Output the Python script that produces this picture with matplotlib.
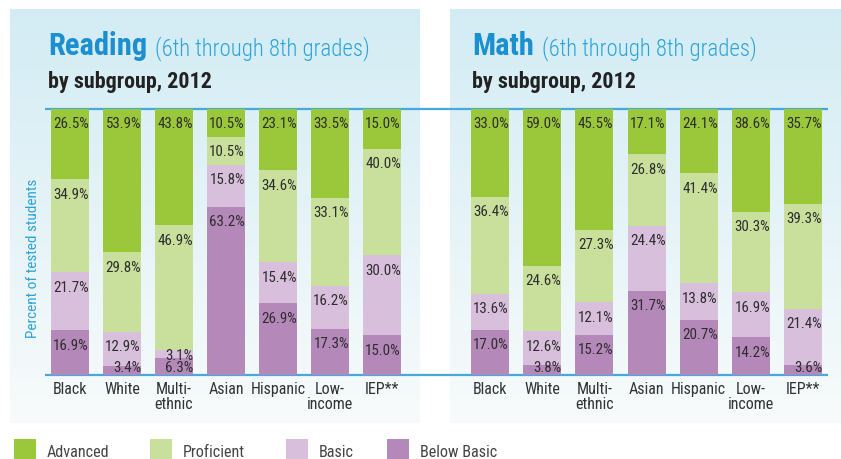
import matplotlib
matplotlib.use("Agg")
import matplotlib.pyplot as plt
import numpy as np
from matplotlib import font_manager
from matplotlib.patches import Rectangle

# ---------------- data ----------------
categories = ["Black", "White", "Multi-\nethnic", "Asian", "Hispanic", "Low-\nincome", "IEP**"]
levels = ["Below Basic", "Basic", "Proficient", "Advanced"]

reading_below_basic = [16.9, 3.4, 6.3, 63.2, 26.9, 17.3, 15.0]
reading_basic       = [21.7, 12.9, 3.1, 15.8, 15.4, 16.2, 30.0]
reading_proficient  = [34.9, 29.8, 46.9, 10.5, 34.6, 33.1, 40.0]
reading_advanced    = [26.5, 53.9, 43.8, 10.5, 23.1, 33.5, 15.0]

math_below_basic = [17.0, 3.8, 15.2, 31.7, 20.7, 14.2, 3.6]
math_basic       = [13.6, 12.6, 12.1, 24.4, 13.8, 16.9, 21.4]
math_proficient  = [36.4, 24.6, 27.3, 26.8, 41.4, 30.3, 39.3]
math_advanced    = [33.0, 59.0, 45.5, 17.1, 24.1, 38.6, 35.7]

level_colors = {"Advanced": "#9bc83b", "Proficient": "#c9e09c",
                "Basic": "#d8bfdc", "Below Basic": "#b588ba"}

# ---------------- fonts ----------------
avail = {f.name for f in font_manager.fontManager.ttflist}
font = "Roboto"
for cand in ["Roboto Condensed", "Liberation Sans Narrow", "Roboto"]:
    if cand in avail:
        font = cand
        break
plt.rcParams["font.family"] = [font, "DejaVu Sans"]

W, H = 841, 459
fig = plt.figure(figsize=(W / 100, H / 100), dpi=100)

# background axes in pixel coordinates
bg = fig.add_axes([0, 0, 1, 1], zorder=0)
bg.axis("off")

# gradient panels
grad = np.linspace(0, 1, 256).reshape(-1, 1)
top_c = np.array([0.827, 0.925, 0.957])
bot_c = np.array([0.972, 0.984, 0.984])
img = top_c[None, None, :] * (1 - grad[..., None]) + bot_c[None, None, :] * grad[..., None]
for (x0, x1) in [(10, 420), (450, 841)]:
    bg.imshow(img, extent=(x0, x1, 423, 9), aspect="auto", zorder=0, interpolation="bilinear")
bg.set_xlim(0, W)
bg.set_ylim(H, 0)

PLOT_TOP, PLOT_BOT = 109, 375
PX_PER_PCT = (PLOT_BOT - PLOT_TOP) / 100.0

line_c = "#45a9dd"
for yy in (PLOT_TOP, PLOT_BOT):
    bg.plot([45, 828], [yy, yy], color=line_c, lw=1.6, zorder=5, solid_capstyle="butt")

def make_chart(first_center, spacing, right_px, stacks, title, title_x):
    left_px = first_center - spacing / 2
    ax = fig.add_axes([left_px / W, 1 - PLOT_BOT / H,
                       (right_px - left_px) / W, (PLOT_BOT - PLOT_TOP) / H], zorder=2)
    ax.patch.set_alpha(0)
    x = np.arange(len(categories))
    width = 38 / spacing
    bottom = np.zeros(len(categories))
    label_base = [[] for _ in categories]
    for lvl, vals in stacks:
        vals = np.array(vals)
        ax.bar(x, vals, width, bottom=bottom, color=level_colors[lvl], edgecolor="none", zorder=2)
        tops = bottom + vals
        for i, (t, v) in enumerate(zip(tops, vals)):
            yb = t - 19.5 / PX_PER_PCT
            yb = max(yb, 2.5 / PX_PER_PCT)
            if label_base[i]:
                yb = max(yb, label_base[i][-1] + 12.5 / PX_PER_PCT)
            label_base[i].append(yb)
            ax.text(i + width / 2, yb, f"{v:.1f}%", ha="right", va="baseline",
                    fontsize=10.8, color="#2e2e2e", zorder=4, clip_on=False)
        bottom = tops
    ax.set_xlim(-0.5, (right_px - first_center) / spacing)
    ax.set_ylim(0, 100)
    ax.axis("off")
    for i, c in enumerate(categories):
        ax.text(i, -0.025, c, transform=ax.get_xaxis_transform(), ha="center", va="top",
                fontsize=11.5, color="#333333", linespacing=1.05)
    # titles
    t = bg.text(title_x, 55, title, fontsize=22, fontweight="bold", color="#1b8fd0",
                va="baseline", ha="left")
    fig.canvas.draw()
    bb = t.get_window_extent()
    bg.text(title_x + bb.width + 8, 55, "(6th through 8th grades)", fontsize=16.4,
            fontweight="light", color="#2ba3dc", va="baseline", ha="left")
    bg.text(title_x, 88, "by subgroup, 2012", fontsize=15.8, fontweight="bold",
            color="#222222", va="baseline", ha="left")
    return ax

reading_stacks = [("Below Basic", reading_below_basic), ("Basic", reading_basic),
                  ("Proficient", reading_proficient), ("Advanced", reading_advanced)]
math_stacks = [("Below Basic", math_below_basic), ("Basic", math_basic),
               ("Proficient", math_proficient), ("Advanced", math_advanced)]

make_chart(70, 52.0, 421, reading_stacks, "Reading", 48)
make_chart(490, 52.2, 828, math_stacks, "Math", 472)

bg.text(33, 258, "Percent of tested students", rotation=90, ha="center", va="center",
        fontsize=11, color="#2ba3dc")

# legend
legend_items = ["Advanced", "Proficient", "Basic", "Below Basic"]
legend_x = [14, 150, 286, 387]
for name, lx in zip(legend_items, legend_x):
    bg.add_patch(Rectangle((lx, 439), 22, 21, facecolor=level_colors[name], edgecolor="none",
                           zorder=3, clip_on=False))
    bg.text(lx + 33, 457, name, fontsize=11.6, color="#444444", va="baseline", ha="left")

fig.savefig("out.png", dpi=100)
